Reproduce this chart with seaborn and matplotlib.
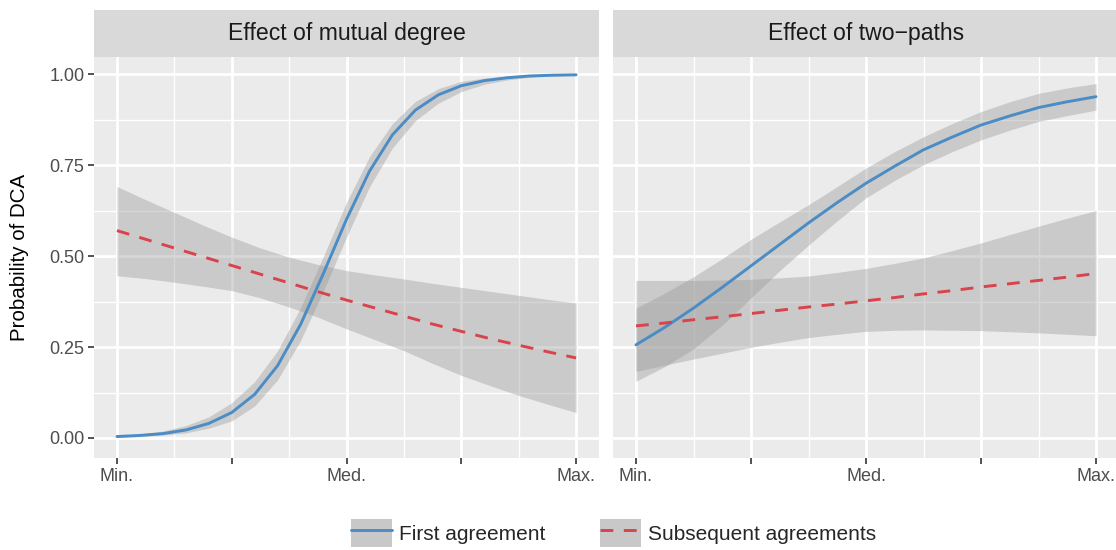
import matplotlib.pyplot as plt
import pandas as pd
import seaborn as sns
from matplotlib.legend_handler import HandlerTuple
from matplotlib.lines import Line2D
from matplotlib.patches import Patch

# x position scaled Min (0) .. Max (1)
X_FINE = [0.0, 0.05, 0.10, 0.15, 0.20, 0.25, 0.30, 0.35, 0.40, 0.45, 0.50,
          0.55, 0.60, 0.65, 0.70, 0.75, 0.80, 0.85, 0.90, 0.95, 1.0]
X_MID = [0.0, 0.0625, 0.125, 0.1875, 0.25, 0.3125, 0.375, 0.4375, 0.5,
         0.5625, 0.625, 0.6875, 0.75, 0.8125, 0.875, 0.9375, 1.0]

# Effect of mutual degree
mutual_first = [0.004, 0.007, 0.012, 0.022, 0.040, 0.070, 0.120, 0.199, 0.312, 0.453, 0.601,
                0.733, 0.833, 0.901, 0.943, 0.968, 0.982, 0.990, 0.995, 0.997, 0.998]
mutual_first_lo = [0.002, 0.004, 0.008, 0.014, 0.027, 0.047, 0.088, 0.160, 0.268, 0.405, 0.552,
                   0.690, 0.797, 0.872, 0.920, 0.952, 0.972, 0.984, 0.991, 0.995, 0.997]
mutual_first_hi = [0.006, 0.011, 0.019, 0.034, 0.058, 0.097, 0.155, 0.240, 0.358, 0.500, 0.648,
                   0.773, 0.864, 0.925, 0.960, 0.980, 0.989, 0.994, 0.997, 0.999, 0.999]
mutual_subseq = [0.570, 0.546, 0.522, 0.498, 0.474, 0.450, 0.426, 0.402, 0.379,
                 0.357, 0.335, 0.313, 0.293, 0.273, 0.255, 0.237, 0.220]
mutual_subseq_lo = [0.446, 0.438, 0.428, 0.417, 0.405, 0.385, 0.360, 0.332, 0.300,
                    0.270, 0.240, 0.205, 0.172, 0.144, 0.117, 0.093, 0.070]
mutual_subseq_hi = [0.691, 0.655, 0.620, 0.585, 0.552, 0.522, 0.497, 0.477, 0.460,
                    0.448, 0.437, 0.425, 0.414, 0.403, 0.392, 0.381, 0.371]

# Effect of two-paths
paths_first = [0.256, 0.304, 0.357, 0.414, 0.473, 0.532, 0.591, 0.647, 0.700,
               0.747, 0.792, 0.827, 0.860, 0.885, 0.908, 0.924, 0.938]
paths_first_lo = [0.156, 0.196, 0.245, 0.310, 0.385, 0.460, 0.530, 0.597, 0.660,
                  0.708, 0.751, 0.787, 0.819, 0.846, 0.870, 0.886, 0.901]
paths_first_hi = [0.357, 0.398, 0.443, 0.493, 0.546, 0.594, 0.641, 0.691, 0.742,
                  0.787, 0.828, 0.864, 0.897, 0.924, 0.947, 0.962, 0.974]
paths_subseq = [0.308, 0.316, 0.325, 0.333, 0.342, 0.351, 0.360, 0.368, 0.377,
                0.386, 0.396, 0.405, 0.415, 0.424, 0.433, 0.442, 0.452]
paths_subseq_lo = [0.183, 0.200, 0.217, 0.233, 0.249, 0.263, 0.276, 0.285, 0.293,
                   0.296, 0.297, 0.296, 0.295, 0.292, 0.289, 0.285, 0.281]
paths_subseq_hi = [0.433, 0.433, 0.433, 0.434, 0.436, 0.440, 0.445, 0.455, 0.466,
                   0.480, 0.495, 0.515, 0.536, 0.559, 0.582, 0.604, 0.625]

panels = ["Effect of mutual degree", "Effect of two\u2212paths"]
series = ["First agreement", "Subsequent agreements"]
x_labels = ["Min.", "", "Med.", "", "Max."]

BLUE = "#4b8cc4"
RED = "#d9434b"


def frame(x, p, lo, hi, panel, name):
    return pd.DataFrame({"x": x, "p": p, "lo": lo, "hi": hi, "panel": panel, "series": name})


def main():
    df = pd.concat([
        frame(X_FINE, mutual_first, mutual_first_lo, mutual_first_hi, panels[0], series[0]),
        frame(X_MID, mutual_subseq, mutual_subseq_lo, mutual_subseq_hi, panels[0], series[1]),
        frame(X_MID, paths_first, paths_first_lo, paths_first_hi, panels[1], series[0]),
        frame(X_MID, paths_subseq, paths_subseq_lo, paths_subseq_hi, panels[1], series[1]),
    ])

    sns.set_theme(style="darkgrid")
    plt.rcParams["font.family"] = ["Liberation Sans", "DejaVu Sans"]

    fig = plt.figure(figsize=(11.16, 5.5), dpi=100)
    W, H = 1116, 550
    lefts = [94, 613]
    widths = [505, 506]
    palette = {series[0]: BLUE, series[1]: RED}
    dashes = {series[0]: "", series[1]: (4.4, 3.6)}

    for i, panel in enumerate(panels):
        ax = fig.add_axes([lefts[i] / W, 92 / H, widths[i] / W, 401 / H])
        ax.set_facecolor("#ebebeb")
        sub = df[df["panel"] == panel]

        # confidence ribbons first, lines on top
        for name in series:
            s = sub[sub["series"] == name]
            ax.fill_between(s["x"], s["lo"], s["hi"], color="#999999", alpha=0.4, lw=0, zorder=2)

        sns.lineplot(data=sub, x="x", y="p", hue="series", style="series",
                     palette=palette, dashes=dashes, lw=2.1, legend=False,
                     ax=ax, zorder=3)

        ax.set_xlim(-0.05, 1.05)
        ax.set_ylim(-0.055, 1.047)
        ax.set_xticks([0, 0.25, 0.5, 0.75, 1.0])
        ax.set_xticklabels(x_labels)
        ax.set_xticks([0.125, 0.375, 0.625, 0.875], minor=True)
        ax.set_yticks([0, 0.25, 0.5, 0.75, 1.0])
        ax.set_yticks([0.125, 0.375, 0.625, 0.875], minor=True)
        ax.grid(which="major", color="white", lw=2.0)
        ax.grid(which="minor", color="white", lw=1.0)
        ax.tick_params(which="major", length=4, width=1.2, color="#333333",
                       labelcolor="#4d4d4d", labelsize=13, pad=3,
                       bottom=True, left=(i == 0))
        ax.tick_params(which="minor", length=0)
        ax.set_xlabel("")
        for sp in ax.spines.values():
            sp.set_visible(False)
        if i == 0:
            ax.set_yticklabels(["0.00", "0.25", "0.50", "0.75", "1.00"])
            ax.set_ylabel("Probability of DCA", fontsize=14.8, color="black")
            ax.yaxis.set_label_coords(-0.128, 0.5)
        else:
            ax.set_yticklabels([])
            ax.set_ylabel("")

        # facet strip
        strip = fig.add_axes([lefts[i] / W, 493 / H, widths[i] / W, 47 / H])
        strip.set_facecolor("#d9d9d9")
        strip.set_xticks([])
        strip.set_yticks([])
        for sp in strip.spines.values():
            sp.set_visible(False)
        strip.text(0.5, 0.5, panel, ha="center", va="center",
                   fontsize=16.6, color="#1a1a1a", transform=strip.transAxes)

    key = dict(facecolor="#c8c8c8", edgecolor="none")
    handles = [
        (Patch(**key), Line2D([], [], color=BLUE, lw=2.1)),
        (Patch(**key), Line2D([], [], color=RED, lw=2.1, dashes=(4.4, 3.6))),
    ]
    fig.legend(handles, series, handler_map={tuple: HandlerTuple(ndivide=1, pad=0)},
               loc="center", bbox_to_anchor=(0.55, 0.031), ncol=2, frameon=False,
               fontsize=15, handlelength=1.97, handleheight=1.63,
               handletextpad=0.34, columnspacing=2.6)

    fig.savefig("out.png", dpi=100)
    plt.close(fig)


if __name__ == "__main__":
    main()
